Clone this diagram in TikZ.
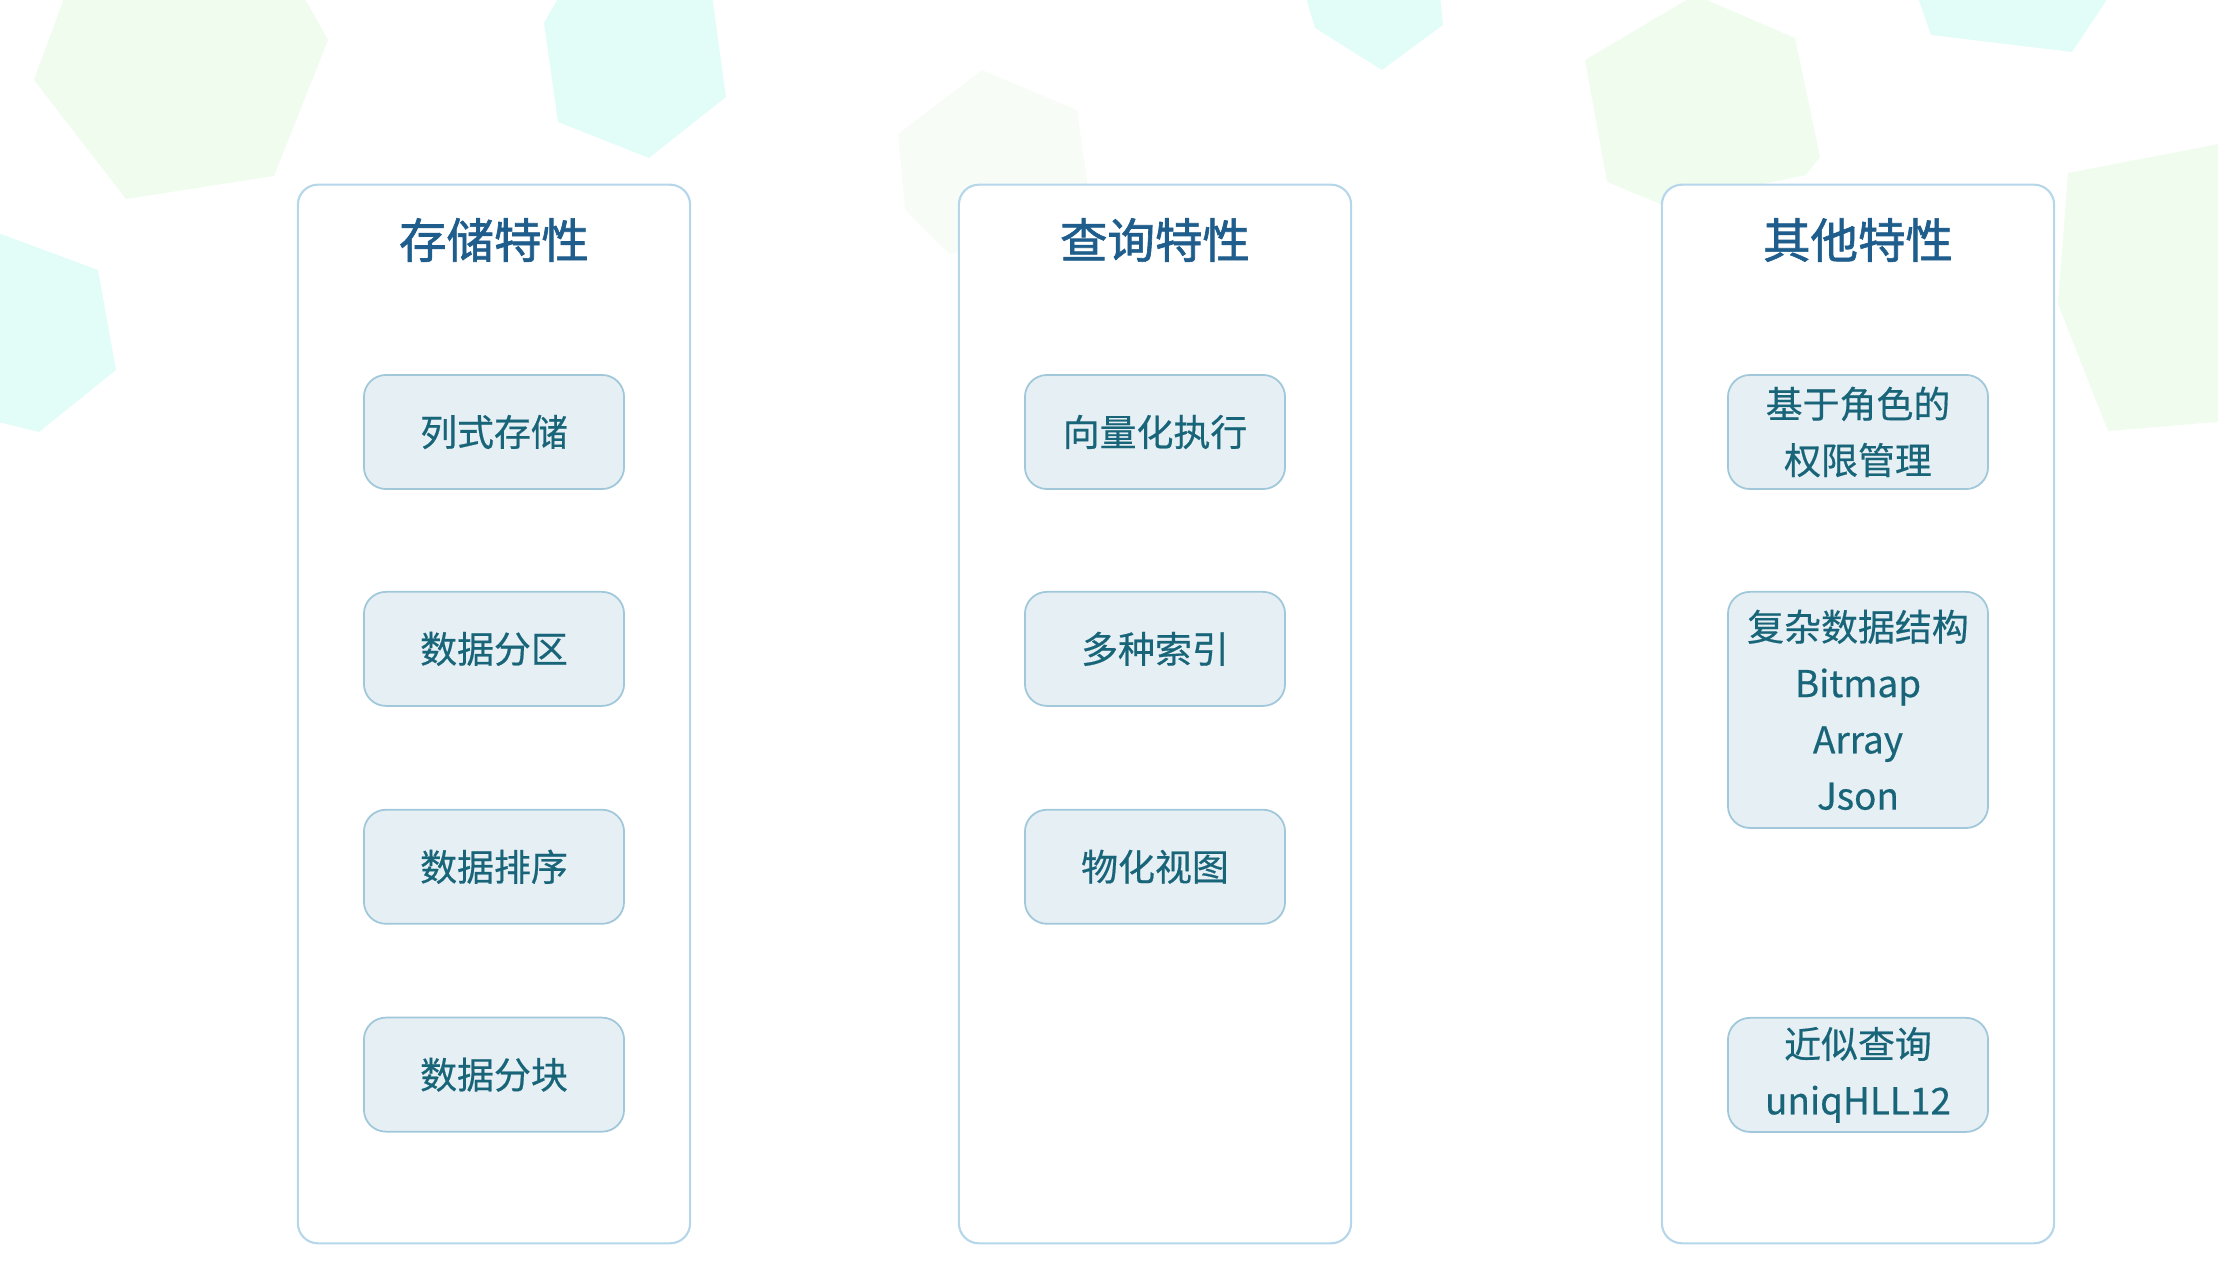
\documentclass[tikz,border=0pt]{standalone}
\usepackage{fontspec}
\newfontfamily\cjk[FakeBold=0.5]{Noto Sans CJK SC}
\newfontfamily\cjkhead[FakeBold=1.4]{Noto Sans CJK SC}
\usetikzlibrary{positioning}

\definecolor{panelline}{RGB}{182,214,234}
\definecolor{itemline}{RGB}{160,200,218}
\definecolor{itemfill}{RGB}{230,239,244}
\definecolor{titletext}{RGB}{31,94,140}
\definecolor{itemtext}{RGB}{24,100,120}
\definecolor{hexgreen}{RGB}{239,252,238}
\definecolor{hexcyan}{RGB}{226,252,248}
\definecolor{hexfaint}{RGB}{247,253,246}

\tikzset{
  panel/.style={draw=panelline, line width=0.6pt, rounded corners=0.2cm,
    minimum width=3.92cm, minimum height=10.58cm},
  heading/.style={font=\cjkhead\fontsize{13.5pt}{16pt}\selectfont, text=titletext},
  feature/.style={draw=itemline, fill=itemfill, line width=0.5pt, rounded corners=0.22cm,
    minimum width=2.6cm, minimum height=1.14cm, inner sep=0pt, align=center,
    text=itemtext, font=\cjk\fontsize{10.5pt}{16pt}\selectfont},
}

\begin{document}
\begin{tikzpicture}[x=0.01cm, y=-0.01cm]
  \useasboundingbox (0,0) rectangle (2218,1264);
  \clip (0,0) rectangle (2218,1264);

  % background shapes
  \fill[hexgreen] (67,-10) -- (34,80) -- (126,199) -- (274,176) -- (328,40) -- (300,-10) -- cycle;
  \fill[hexcyan] (560,-5) -- (544,23) -- (558,122) -- (649,158) -- (726,97) -- (712,-5) -- cycle;
  \fill[hexcyan] (-10,230) -- (98,270) -- (116,370) -- (39,432) -- (-10,420) -- cycle;
  \fill[hexfaint] (898,134) -- (982,70) -- (1077,110) -- (1090,200) -- (950,255) -- (905,210) -- cycle;
  \fill[hexcyan] (1305,-5) -- (1315,28) -- (1382,70) -- (1443,25) -- (1440,-5) -- cycle;
  \fill[hexgreen] (1585,60) -- (1695,-5) -- (1795,38) -- (1820,157) -- (1806,175) -- (1663,205) -- (1607,182) -- cycle;
  \fill[hexcyan] (1917,-5) -- (1931,35) -- (2072,52) -- (2110,-5) -- cycle;
  \fill[hexgreen] (2068,173) -- (2240,140) -- (2240,420) -- (2108,431) -- (2058,304) -- cycle;

  % storage
  \node[panel, fill=white] (store) at (494,714) {};
  \node[heading] (storehead) at (494,240) {存储特性};
  \node[feature] (colstore) at (494,432) {列式存储};
  \node[feature, below=1.01cm of colstore] (partition) {数据分区};
  \node[feature, below=1.02cm of partition] (sorting) {数据排序};
  \node[feature, below=0.92cm of sorting] (chunking) {数据分块};

  % query
  \node[panel, fill=white] (query) at (1155,714) {};
  \node[heading] (queryhead) at (1155,240) {查询特性};
  \node[feature] (vector) at (1155,432) {向量化执行};
  \node[feature, below=1.01cm of vector] (indexes) {多种索引};
  \node[feature, below=1.02cm of indexes] (matview) {物化视图};

  % other
  \node[panel, fill=white] (other) at (1858,714) {};
  \node[heading] (otherhead) at (1858,240) {其他特性};
  \node[feature] (rbac) at (1858,432) {基于角色的\\权限管理};
  \node[feature, minimum height=2.36cm, below=1.01cm of rbac] (complex) {复杂数据结构\\Bitmap\\Array\\Json};
  \node[feature, below=1.88cm of complex] (approx) {近似查询\\uniqHLL12};
\end{tikzpicture}
\end{document}
